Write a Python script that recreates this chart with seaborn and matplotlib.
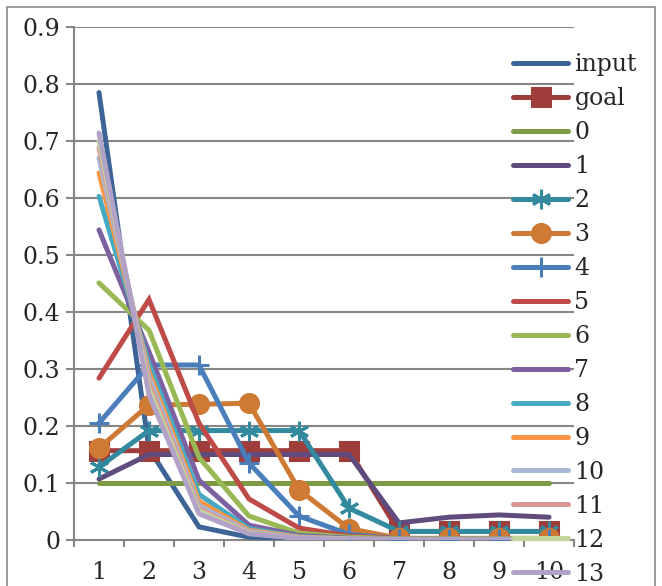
import matplotlib
matplotlib.use("Agg")
import matplotlib.pyplot as plt
import seaborn as sns
import pandas as pd
import numpy as np
from matplotlib.lines import Line2D
from matplotlib.patches import Rectangle

x_cats = [1, 2, 3, 4, 5, 6, 7, 8, 9, 10]

input_vals = [0.785, 0.16, 0.023, 0.005, 0.003, 0.002, 0.002, 0.002, 0.002, 0.002]
goal_vals = [0.1567, 0.1567, 0.1567, 0.1567, 0.1567, 0.1567, 0.015, 0.015, 0.015, 0.015]
s0 = [0.1, 0.1, 0.1, 0.1, 0.1, 0.1, 0.1, 0.1, 0.1, 0.1]
s1 = [0.107, 0.15, 0.15, 0.15, 0.15, 0.15, 0.03, 0.04, 0.044, 0.04]
s2 = [0.128, 0.192, 0.192, 0.192, 0.192, 0.056, 0.015, 0.015, 0.015, 0.015]
s3 = [0.161, 0.237, 0.238, 0.24, 0.088, 0.02, 0.003, 0.003, 0.003, 0.003]
s4 = [0.205, 0.307, 0.307, 0.135, 0.042, 0.01, 0.002, 0.002, 0.002, 0.002]
s5 = [0.284, 0.422, 0.205, 0.072, 0.021, 0.007, 0.002, 0.002, 0.002, 0.002]
s6 = [0.451, 0.368, 0.145, 0.042, 0.012, 0.005, 0.002, 0.002, 0.002, 0.002]
s7 = [0.544, 0.33, 0.105, 0.026, 0.008, 0.003, 0.001, 0.001, 0.001, 0.001]
s8 = [0.603, 0.31, 0.08, 0.02, 0.006, 0.002, 0.001, 0.001, 0.001, 0.001]
s9 = [0.644, 0.295, 0.068, 0.017, 0.005, 0.002, 0.001, 0.001, 0.001, 0.001]
s10 = [0.67, 0.285, 0.06, 0.015, 0.004, 0.002, 0.001, 0.001, 0.001, 0.001]
s11 = [0.688, 0.275, 0.055, 0.013, 0.004, 0.001, 0.001, 0.001, 0.001, 0.001]
s12 = [0.70, 0.265, 0.051, 0.012, 0.003, 0.001, 0.001, 0.001, 0.001, 0.001]
s13 = [0.714, 0.255, 0.046, 0.011, 0.003, 0.001, 0.001, 0.001, 0.001, 0.001]

series_names = ["input", "goal", "0", "1", "2", "3", "4", "5", "6", "7",
                "8", "9", "10", "11", "12", "13"]
series_vals = [input_vals, goal_vals, s0, s1, s2, s3, s4, s5, s6, s7,
               s8, s9, s10, s11, s12, s13]
y_ticks = [0, 0.1, 0.2, 0.3, 0.4, 0.5, 0.6, 0.7, 0.8, 0.9]
y_ticklabels = ["0", "0.1", "0.2", "0.3", "0.4", "0.5", "0.6", "0.7", "0.8", "0.9"]

colors = ["#3C6496", "#9E3D3A", "#7E9A44", "#5F4B7D", "#33899E", "#CE7A35",
          "#4A7EBB", "#BE4B48", "#98B954", "#7D60A0", "#46AAC5", "#F79646",
          "#A7B8D9", "#D99694", "#C3D69B", "#B3A2C7"]
markers = [None, "s", None, None, (6, 2, 0), "o", "+", None, None, None,
           None, None, None, None, None, None]
msizes = [0, 13, 0, 0, 14, 13, 14, 0, 0, 0, 0, 0, 0, 0, 0, 0]

records = []
for name, vals in zip(series_names, series_vals):
    for xc, v in zip(x_cats, vals):
        records.append({"series": name, "x": xc, "y": v})
df = pd.DataFrame(records)

sns.set_style("white")
plt.rcParams["font.family"] = ["DejaVu Serif"]

fig = plt.figure(figsize=(6.62, 5.86), dpi=100)
ax = fig.add_axes([74 / 662, 1 - 540 / 586, 500 / 662, 513 / 586])

handles = []
for i, name in enumerate(series_names):
    sub = df[df["series"] == name]
    mk = markers[i]
    kw = dict(color=colors[i], linewidth=3.6, solid_joinstyle="miter",
              solid_capstyle="round")
    if mk is not None:
        kw.update(marker=mk, markersize=msizes[i], markeredgecolor=colors[i],
                  markerfacecolor=colors[i], markeredgewidth=2.2)
    sns.lineplot(data=sub, x="x", y="y", ax=ax, legend=False, sort=False,
                 estimator=None, zorder=3 + i, **kw)
    h = Line2D([0], [0], **kw)
    handles.append(h)

ax.set_xlim(0.5, 10.5)
ax.set_ylim(0, 0.9)
ax.set_yticks(y_ticks)
ax.set_yticklabels(y_ticklabels)
ax.set_xticks(x_cats)
ax.set_xticklabels([str(v) for v in x_cats])
ax.set_xticks(np.arange(0.5, 11, 1.0), minor=True)
ax.set_xlabel("")
ax.set_ylabel("")

grid_c = "#868686"
for yv in y_ticks[1:]:
    ax.axhline(yv, color=grid_c, lw=1.5, zorder=1)
for s in ["top", "right"]:
    ax.spines[s].set_visible(False)
for s in ["left", "bottom"]:
    ax.spines[s].set_color(grid_c)
    ax.spines[s].set_linewidth(1.5)
    ax.spines[s].set_zorder(2)

ax.tick_params(axis="y", which="major", length=6, width=1.5, color=grid_c,
               pad=4, labelsize=17, left=True)
ax.tick_params(axis="x", which="major", length=0, pad=15, labelsize=17)
ax.tick_params(axis="x", which="minor", length=5, width=1.5, color=grid_c,
               bottom=True, direction="out")

fig.legend(handles, series_names, loc="upper left",
           bbox_to_anchor=(513 / 662, 1 - 53 / 586), frameon=False,
           fontsize=17, handlelength=2.35, handletextpad=0.25,
           labelspacing=0.465, borderpad=0, borderaxespad=0)

fig.patches.append(Rectangle((7 / 662, -0.05), 648 / 662, 1 - 7 / 586 + 0.05,
                             transform=fig.transFigure, fill=False,
                             edgecolor="#8C8C8C", linewidth=1.2))

fig.savefig("out.png", dpi=100)
